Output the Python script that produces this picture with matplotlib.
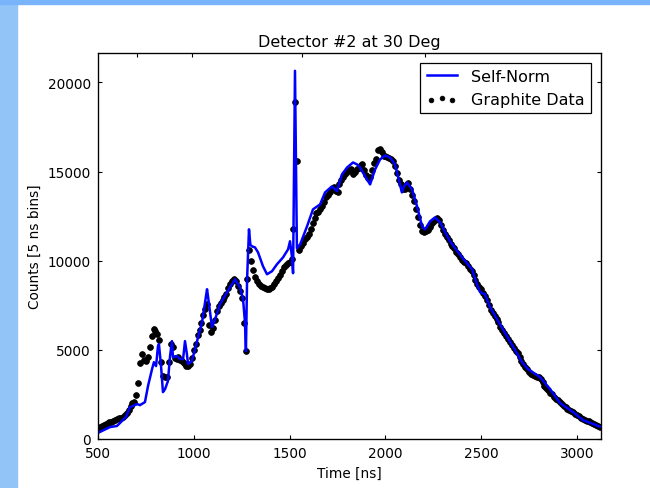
import numpy as np
import matplotlib
matplotlib.use('Agg')
import matplotlib.pyplot as plt
from matplotlib.patches import Rectangle

# Graphite run, 10 ns steps starting at 500 ns (one row per 100 ns)
graphite_counts = [
    620, 660, 720, 780, 840, 880, 940, 980, 1020, 1060,              # 500
    1100, 1150, 1190, 1230, 1350, 1480, 1620, 1830, 2000, 2100,      # 600
    2450, 3150, 4250, 4750, 4450, 4350, 4600, 5150, 5800, 6150,      # 700
    6050, 5900, 5550, 4300, 3550, 3480, 3470, 4300, 5350, 5150,      # 800
    4550, 4500, 4600, 4450, 4350, 4250, 4100, 4100, 4200, 4550,      # 900
    5000, 5350, 5850, 6100, 6500, 6950, 7300, 7550, 6400, 5980,      # 1000
    6200, 6700, 7200, 7450, 7650, 7800, 7950, 8150, 8450, 8700,      # 1100
    8850, 8950, 8850, 8600, 8300, 7900, 6500, 4950, 9000, 10600,     # 1200
    10000, 9500, 9100, 8850, 8700, 8600, 8500, 8450, 8400, 8400,     # 1300
    8450, 8550, 8700, 8850, 9050, 9200, 9450, 9650, 9750, 9850,      # 1400
    9950, 10100, 11800, 18900, 15600, 10600, 10800, 11000, 11200, 11350,  # 1500
    11500, 11800, 12100, 12400, 12650, 12750, 12900, 13050, 13300, 13550,  # 1600
    13700, 13850, 14050, 14150, 13900, 13850, 14300, 14550, 14700, 14850,  # 1700
    15000, 15100, 15150, 14850, 15000, 15150, 15200, 15350, 15400, 15100,  # 1800
    14800, 14650, 14700, 15100, 15500, 15700, 16200, 16250, 16100, 15900,  # 1900
    15850, 15800, 15750, 15700, 15600, 15300, 14900, 14500, 14300, 14050,  # 2000
    14000, 14300, 14350, 14000, 13700, 13350, 12900, 12450, 12000, 11650,  # 2100
    11600, 11650, 11700, 11900, 12050, 12150, 12300, 12400, 12300, 12000,  # 2200
    11700, 11500, 11350, 11150, 10950, 10850, 10700, 10500, 10350, 10200,  # 2300
    10050, 9950, 9850, 9700, 9550, 9400, 9200, 8900, 8700, 8550,    # 2400
    8400, 8200, 8000, 7800, 7500, 7250, 7050, 6900, 6750, 6550,     # 2500
    6300, 6100, 5950, 5800, 5600, 5450, 5300, 5100, 4950, 4800,     # 2600
    4600, 4400, 4200, 4050, 3900, 3750, 3650, 3600, 3550, 3500,     # 2700
    3450, 3350, 3200, 3000, 2850, 2750, 2600, 2500, 2350, 2250,     # 2800
    2200, 2050, 1950, 1850, 1780, 1700, 1620, 1550, 1500, 1420,     # 2900
    1350, 1280, 1200, 1130, 1080, 1030, 990, 950, 920, 860,         # 3000
    800, 740, 700,                                                  # 3100
]
graphite_time = 500 + 10 * np.arange(len(graphite_counts))

# self-normalised curve
norm_time = [500, 530, 563, 599, 625, 646, 667, 683, 704, 719, 745, 761, 782,
             792, 803, 813, 818, 829, 839, 850, 865, 876, 886, 891, 912, 928,
             944, 954, 964, 970, 990, 1017, 1043, 1069, 1074, 1095, 1111,
             1137, 1173, 1199, 1215, 1241, 1257, 1267, 1272, 1278, 1288,
             1295, 1304, 1319, 1335, 1361, 1382, 1408, 1434, 1466, 1492,
             1502, 1512, 1518, 1528, 1538, 1555, 1591, 1622, 1659, 1685,
             1721, 1747, 1773, 1800, 1831, 1852, 1867, 1894, 1920, 1946,
             1972, 1998, 2024, 2050, 2066, 2086, 2097, 2113, 2139, 2165,
             2191, 2207, 2233, 2259, 2285, 2337, 2400, 2452, 2478, 2494,
             2520, 2546, 2634, 2713, 2744, 2807, 2859, 2911, 2979, 3031,
             3110, 3125]
norm_counts = [340, 500, 670, 730, 1010, 1230, 1790, 1850, 1960, 1900, 2070,
               2970, 3920, 4310, 4090, 5210, 5320, 4090, 2630, 2800, 3250,
               4650, 5490, 4590, 4650, 4480, 4480, 5490, 4760, 4200, 4370,
               5490, 6550, 8400, 8010, 6270, 6720, 7560, 8230, 8680, 8960,
               8510, 7840, 6550, 4930, 8960, 11760, 10900, 10800, 10750,
               10470, 9690, 9240, 9410, 9800, 10190, 10640, 11090, 10250,
               9300, 20650, 10700, 10920, 11930, 12880, 13160, 13830, 14170,
               13900, 14840, 15230, 15510, 15400, 15230, 14730, 14280, 15120,
               15680, 15900, 15790, 15400, 14730, 13830, 14170, 14390, 14000,
               13050, 11930, 11760, 12210, 12430, 12150, 11090, 10190, 9520,
               8680, 8230, 8120, 7390, 5770, 4310, 3920, 3470, 2800, 2020,
               1510, 1060, 730, 680]

x_ticks = [500, 1000, 1500, 2000, 2500, 3000]
y_ticks = [0, 5000, 10000, 15000, 20000]
top_ticks = [703, 990, 1565, 2204]

fig = plt.figure(figsize=(6.5, 4.89), dpi=100, facecolor='white')
# slide background strips
fig.patches.append(Rectangle((0, 0), 17 / 650, 1, transform=fig.transFigure,
                             color='#92c4f8', zorder=0))
fig.patches.append(Rectangle((0, 1 - 5 / 489), 1, 5 / 489, transform=fig.transFigure,
                             color='#79b4fa', zorder=0))

ax = fig.add_axes([98 / 650, 1 - 440 / 489, 503 / 650, 386 / 489])

ax.scatter(graphite_time, graphite_counts, s=17, c='k', edgecolors='k',
           linewidths=0.6, label='Graphite Data', zorder=2)
ax.plot(norm_time, norm_counts, color='b', lw=1.8, label='Self-Norm', zorder=3)

ax.set_xlim(500, 3125)
ax.set_ylim(0, 21650)
ax.set_xticks(x_ticks)
ax.set_yticks(y_ticks)
ax.tick_params(direction='in', length=3.2, labelsize=9.8, top=False, right=True,
               pad=5)
for sp in ax.spines.values():
    sp.set_linewidth(0.9)

ax.set_xlabel('Time [ns]', fontsize=9.8)
ax.set_ylabel('Counts [5 ns bins]', fontsize=9.8)
ax.set_title('Detector #2 at 30 Deg', fontsize=11.5, pad=5)

# extra tick marks along the top edge
ax2 = ax.twiny()
ax2.set_xlim(ax.get_xlim())
ax2.set_xticks(top_ticks)
ax2.set_xticklabels([])
ax2.tick_params(direction='in', length=3.2)

h, l = ax.get_legend_handles_labels()
leg = ax.legend(h[::-1], l[::-1], loc='upper right', fontsize=11.5,
                scatterpoints=3, fancybox=False, edgecolor='k', framealpha=1,
                handlelength=1.9, handletextpad=0.9, borderpad=0.4,
                borderaxespad=0.6)
leg.get_frame().set_linewidth(0.9)
leg.legend_handles[1].set_sizes([11])

fig.savefig('out.png', dpi=100)
